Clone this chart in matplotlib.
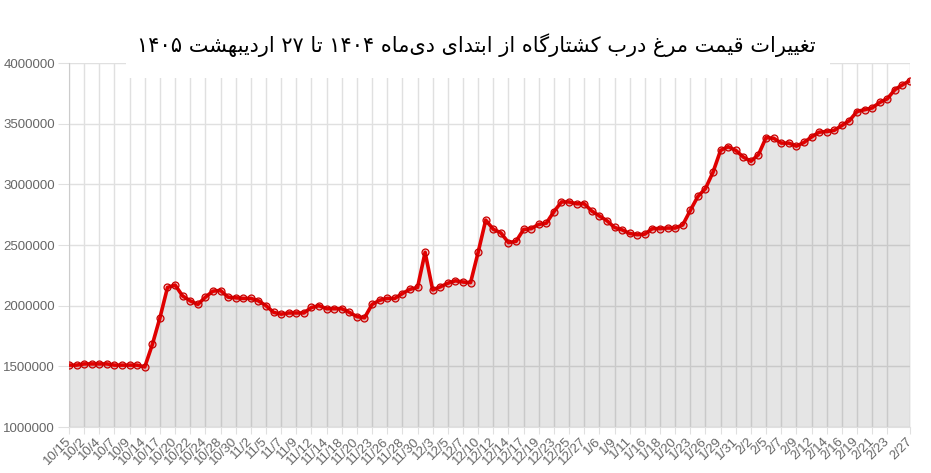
import matplotlib
matplotlib.use('Agg')
import matplotlib.pyplot as plt
from matplotlib.patches import Rectangle

# عنوان نمودار (متن اصلی)
title = 'تغییرات قیمت مرغ درب کشتارگاه از ابتدای دی\u200cماه ۱۴۰۴ تا ۲۷ اردیبهشت ۱۴۰۵'

dates = ['10/15', '10/1', '10/2', '10/3', '10/4', '10/6', '10/7', '10/8', '10/9', '10/13',
         '10/14', '10/16', '10/17', '10/18', '10/20', '10/21', '10/22', '10/23', '10/24', '10/27',
         '10/28', '10/29', '10/30', '11/1', '11/2', '11/4', '11/5', '11/6', '11/7', '11/8',
         '11/9', '11/11', '11/12', '11/13', '11/14', '11/16', '11/18', '11/19', '11/20', '11/21',
         '11/23', '11/25', '11/26', '11/27', '11/28', '11/29', '11/30', '12/2', '12/3', '12/4',
         '12/5', '12/6', '12/7', '12/9', '12/10', '12/11', '12/12', '12/13', '12/14', '12/16',
         '12/17', '12/18', '12/19', '12/20', '12/23', '12/24', '12/25', '12/26', '12/27', '12/28',
         '1/6', '1/8', '1/9', '1/10', '1/11', '1/15', '1/16', '1/17', '1/18', '1/19',
         '1/20', '1/22', '1/23', '1/25', '1/26', '1/27', '1/29', '1/30', '1/31', '2/1',
         '2/2', '2/3', '2/5', '2/6', '2/7', '2/8', '2/9', '2/10', '2/12', '2/13',
         '2/14', '2/15', '2/16', '2/17', '2/19', '2/20', '2/21', '2/22', '2/23', '2/24',
         '2/26', '2/27']

prices = [1510000, 1510000, 1520000, 1520000, 1520000, 1520000, 1510000, 1510000, 1510000, 1510000,
          1495000, 1680000, 1900000, 2150000, 2170000, 2080000, 2040000, 2010000, 2070000, 2120000,
          2125000, 2070000, 2065000, 2060000, 2060000, 2040000, 2000000, 1945000, 1930000, 1940000,
          1940000, 1940000, 1985000, 2000000, 1975000, 1975000, 1975000, 1945000, 1910000, 1900000,
          2010000, 2045000, 2060000, 2060000, 2100000, 2135000, 2150000, 2440000, 2130000, 2155000,
          2185000, 2205000, 2195000, 2190000, 2440000, 2705000, 2630000, 2600000, 2520000, 2530000,
          2628000, 2635000, 2670000, 2680000, 2775000, 2855000, 2855000, 2840000, 2840000, 2780000,
          2740000, 2700000, 2645000, 2625000, 2595000, 2585000, 2590000, 2635000, 2635000, 2640000,
          2640000, 2665000, 2785000, 2900000, 2965000, 3100000, 3280000, 3310000, 3280000, 3225000,
          3190000, 3245000, 3385000, 3380000, 3340000, 3340000, 3315000, 3345000, 3390000, 3430000,
          3435000, 3445000, 3485000, 3525000, 3600000, 3615000, 3630000, 3675000, 3705000, 3780000,
          3820000, 3855000]

y_ticks = [1000000, 1500000, 2000000, 2500000, 3000000, 3500000, 4000000]

# شکل‌دهی ساده حروف فارسی (matplotlib خودش اتصال حروف را انجام نمی‌دهد)
FORMS = {
    '\u0627': ('\uFE8D', '\uFE8E'),
    '\u062F': ('\uFEA9', '\uFEAA'),
    '\u0631': ('\uFEAD', '\uFEAE'),
    '\u0632': ('\uFEAF', '\uFEB0'),
    '\u0628': ('\uFE8F', '\uFE90', '\uFE91', '\uFE92'),
    '\u062A': ('\uFE95', '\uFE96', '\uFE97', '\uFE98'),
    '\u0634': ('\uFEB5', '\uFEB6', '\uFEB7', '\uFEB8'),
    '\u063A': ('\uFECD', '\uFECE', '\uFECF', '\uFED0'),
    '\u0642': ('\uFED5', '\uFED6', '\uFED7', '\uFED8'),
    '\u0645': ('\uFEE1', '\uFEE2', '\uFEE3', '\uFEE4'),
    '\u0647': ('\uFEE9', '\uFEEA', '\uFEEB', '\uFEEC'),
    '\u06A9': ('\uFB8E', '\uFB8F', '\uFB90', '\uFB91'),
    '\u06AF': ('\uFB92', '\uFB93', '\uFB94', '\uFB95'),
    '\u06CC': ('\uFBFC', '\uFBFD', '\uFBFE', '\uFBFF'),
}


def shape_word(w):
    out = []
    for i, ch in enumerate(w):
        f = FORMS.get(ch)
        if f is None:
            if ch != '\u200c':
                out.append(ch)
            continue
        prev = w[i - 1] if i > 0 else None
        nxt = w[i + 1] if i + 1 < len(w) else None
        jp = prev in FORMS and len(FORMS[prev]) == 4
        jn = len(f) == 4 and nxt in FORMS
        if jp and jn:
            out.append(f[3])
        elif jp:
            out.append(f[1])
        elif jn:
            out.append(f[2])
        else:
            out.append(f[0])
    return ''.join(out)


def rtl(text):
    vis = []
    for w in text.split(' '):
        if any(c in FORMS for c in w):
            vis.append(shape_word(w)[::-1])
        else:
            vis.append(w)
    return ' '.join(vis[::-1])


W, H = 931, 473
fig = plt.figure(figsize=(W / 100, H / 100), dpi=100)
ax = fig.add_axes([69 / W, 1 - 427 / H, (910 - 69) / W, (427 - 63) / H])

x = list(range(len(prices)))
shown = list(range(0, len(prices) - 3, 2)) + [len(prices) - 1]

ax.fill_between(x, prices, y_ticks[0], color='black', alpha=0.1, linewidth=0, zorder=2)
ax.plot(x, prices, color='#e00000', linewidth=2.6, zorder=3, solid_joinstyle='round',
        marker='o', markersize=5, markeredgewidth=0.9, markeredgecolor='#c80000',
        markerfacecolor=(0.9, 0, 0, 0.2))

ax.set_xlim(0, len(prices) - 1)
ax.set_ylim(y_ticks[0], y_ticks[-1])
ax.set_xticks(shown)
ax.set_xticklabels([dates[i] for i in shown], rotation=45, ha='right', va='center',
                   rotation_mode='anchor', fontsize=9.5, color='#666666',
                   family='Liberation Sans')
ax.set_yticks(y_ticks)
ax.set_yticklabels([str(v) for v in y_ticks], fontsize=9.5, color='#666666',
                   family='Liberation Sans')

ax.grid(True, color='#e0e0e0', linewidth=1)
ax.set_axisbelow(True)
ax.tick_params(axis='x', length=5, color='#e0e0e0', pad=4)
ax.tick_params(axis='y', length=8, color='#e0e0e0', pad=2)
for s in ['top', 'right']:
    ax.spines[s].set_visible(False)
ax.spines['left'].set_color('#cccccc')
ax.spines['bottom'].set_color('#e0e0e0')

# کادر سفید پشت عنوان که روی خطوط شبکه می‌افتد
fig.patches.append(Rectangle((126 / W, 1 - 78 / H), (830 - 126) / W, 78 / H,
                             transform=fig.transFigure, facecolor='white',
                             edgecolor='none', zorder=5))
fig.text(476 / W, 1 - 45 / H, rtl(title), ha='center', va='center', fontsize=15,
         family=['DejaVu Sans'], color='black', zorder=6)

fig.savefig('out.png', dpi=100)
